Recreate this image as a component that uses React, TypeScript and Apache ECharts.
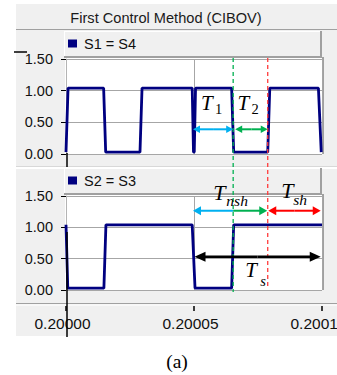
import React, { useEffect, useRef } from "react";
import * as echarts from "echarts";

// Time axis: microseconds after t = 0.2 s, labelled in seconds
const X_TICK_LABELS = ["0.20000", "0.20005", "0.20010"];
const Y_MIN = 0;
const Y_MAX = 1.5;
const Y_STEP = 0.5;

// Gate signal S1 = S4 (time in µs, level)
const s14Time = [0, 0.8, 14.7, 15.5, 28.9, 29.7, 49.3, 49.8, 50.1, 50.6, 64.7, 65.5, 78.8, 79.6, 98.6, 99.7];
const s14Level = [0.03, 1.04, 1.04, 0.03, 0.03, 1.04, 1.04, 0.03, 0.03, 1.04, 1.04, 0.03, 0.03, 1.04, 1.04, 0.03];

// Gate signal S2 = S3
const s23Time = [0, 0.7, 14.8, 15.6, 49.3, 50.4, 64.7, 65.5, 100];
const s23Level = [1.04, 0.03, 0.03, 1.04, 1.04, 0.03, 0.03, 1.04, 1.04];

// Interval boundaries (µs)
const T_START = 49.6;
const T_NSH_END = 65.3;
const T_SH_END = 78.8;
const T_END = 99.5;

const SANS = '"Liberation Sans", Arial, sans-serif';
const SERIF = '"Liberation Serif", "Times New Roman", serif';
const GRID_GRAY = "#a6a6a6";
const FRAME_GRAY = "#a0a0a0";
const BG = "#f0f0f0";
const NAVY = "#000080";
const CYAN = "#00b0f0";
const GREEN = "#00b050";
const RED = "#ff0000";

export default function App() {
  const ref = useRef<HTMLDivElement>(null);

  useEffect(() => {
    if (!ref.current) return;
    const chart = echarts.init(ref.current, undefined, { renderer: "svg" });

    const xAxes = [0, 1, 2].map((i) => ({
      type: "value",
      gridIndex: i,
      min: 0,
      max: 100,
      interval: 50,
      axisLine: { show: false },
      axisTick: { show: i === 2, length: 5, lineStyle: { color: "#000", width: 1.5 } },
      axisLabel: {
        show: i === 2,
        formatter: (v: number) => X_TICK_LABELS[Math.round(v / 50)],
        fontSize: 15.5,
        fontFamily: SANS,
        color: "#111",
        margin: 9,
        padding: [0, 7, 0, 0],
      },
      splitLine: { show: i < 2, lineStyle: { color: GRID_GRAY, width: 1 } },
    }));

    const yAxes = [0, 1, 2].map((i) => ({
      type: "value",
      gridIndex: i,
      show: i < 2,
      min: Y_MIN,
      max: Y_MAX,
      interval: Y_STEP,
      axisLine: { show: true, lineStyle: { color: "#b4b4b4", width: 1 } },
      axisTick: { show: true, length: 5, lineStyle: { color: "#000", width: 1 } },
      axisLabel: {
        formatter: (v: number) => v.toFixed(2),
        fontSize: 14.5,
        fontFamily: SANS,
        color: "#111",
        margin: 13,
      },
      splitLine: { show: true, lineStyle: { color: GRID_GRAY, width: 1 } },
    }));

    const option: any = {
      animation: false,
      grid: [
        { left: 66, top: 59, width: 256, height: 95, show: false },
        { left: 66, top: 196, width: 256, height: 94, show: false },
        { left: 66, top: 300, width: 256, height: 6, show: false },
      ],
      xAxis: xAxes,
      yAxis: yAxes,
      series: [
        {
          name: "S1 = S4",
          type: "line",
          xAxisIndex: 0,
          yAxisIndex: 0,
          data: s14Time.map((t, i) => [t, s14Level[i]]),
          showSymbol: false,
          lineStyle: { color: NAVY, width: 2.8 },
          itemStyle: { color: NAVY },
          z: 5,
        },
        {
          name: "S2 = S3",
          type: "line",
          xAxisIndex: 1,
          yAxisIndex: 1,
          data: s23Time.map((t, i) => [t, s23Level[i]]),
          showSymbol: false,
          lineStyle: { color: NAVY, width: 2.8 },
          itemStyle: { color: NAVY },
          z: 5,
        },
      ],
    };
    chart.setOption(option);

    const px = (g: number, t: number, v: number) =>
      chart.convertToPixel({ gridIndex: g } as any, [t, v]) as number[];

    const line = (x1: number, y1: number, x2: number, y2: number, stroke: string, lineWidth: number, z = 100, lineDash?: number[]) => ({
      type: "line",
      silent: true,
      z,
      shape: { x1, y1, x2, y2 },
      style: { stroke, lineWidth, lineDash },
    });
    const rect = (x: number, y: number, width: number, height: number, fill: string, z: number) => ({
      type: "rect",
      silent: true,
      z,
      shape: { x, y, width, height },
      style: { fill },
    });
    const text = (x: number, y: number, s: string, font: string, align = "left", fill = "#000", z = 110) => ({
      type: "text",
      silent: true,
      z,
      x,
      y,
      style: { text: s, font, fill, align, verticalAlign: "middle", textAlign: align, textVerticalAlign: "middle" },
    });
    const head = (tipX: number, y: number, dir: number, len: number, half: number, fill: string) => ({
      type: "polygon",
      silent: true,
      z: 100,
      shape: { points: [[tipX, y], [tipX - dir * len, y - half], [tipX - dir * len, y + half]] },
      style: { fill },
    });
    // double-headed arrow, optionally two-coloured with a split point
    const arrow = (x1: number, x2: number, y: number, c1: string, c2: string, len: number, half: number, w: number, xm?: number) => {
      const m = xm ?? (x1 + x2) / 2;
      return [
        line(x1 + len * 0.6, y, m, y, c1, w),
        line(m, y, x2 - len * 0.6, y, c2, w),
        head(x1, y, -1, len, half, c1),
        head(x2, y, 1, len, half, c2),
      ];
    };
    // italic T with a subscript
    const tLabel = (x: number, y: number, sub: string, subItalic: boolean, size: number, subSize: number, subDx: number, subDy: number) => [
      text(x, y, "T", `italic ${size}px ${SERIF}`),
      text(x + subDx, y + subDy, sub, `${subItalic ? "italic " : ""}${subSize}px ${SERIF}`),
    ];

    // plot frames
    const [gx0, gyTop0] = px(0, 0, Y_MAX);
    const [gx1, gyBot0] = px(0, 100, Y_MIN);
    const gyTop1 = px(1, 0, Y_MAX)[1];
    const gyBot1 = px(1, 0, Y_MIN)[1];

    const frame: any[] = [
      rect(16, 4, 330, 332, BG, -20),
      rect(gx0 - 1, gyTop0 - 1, gx1 - gx0 + 1, gyBot0 - gyTop0 + 1, "#fff", -10),
      rect(gx0 - 1, gyTop1 - 1, gx1 - gx0 + 1, gyBot1 - gyTop1 + 1, "#fff", -10),
      // title band separator
      line(16, 29.5, 346, 29.5, FRAME_GRAY, 1, -5),
      // legend box, upper panel
      line(64, 31.5, 321, 31.5, "#fff", 1, -5),
      line(64.5, 31, 64.5, 57, "#fff", 1, -5),
      line(321, 31, 321, 58, FRAME_GRAY, 2, -5),
      line(64, 57, 322, 57, FRAME_GRAY, 2, -5),
      line(gx1 + 1, 57, gx1 + 1, gyBot0, FRAME_GRAY, 2, -5),
      // panel separator
      line(16, 166.5, 346, 166.5, "#d8d8d8", 1, -5),
      line(16, 168, 346, 168, "#fff", 2, -5),
      // legend box, lower panel
      line(64.5, 168, 64.5, 194, "#fff", 1, -5),
      line(321, 168, 321, 195, FRAME_GRAY, 2, -5),
      line(64, 194, 322, 194, FRAME_GRAY, 2, -5),
      line(gx1 + 1, 194, gx1 + 1, gyBot1, FRAME_GRAY, 2, -5),
      // time axis band separator
      line(16, 303.5, 346, 303.5, FRAME_GRAY, 1, -5),
      line(16, 305, 346, 305, "#fff", 1, -5),
      // legend entries
      rect(68, 39.5, 9, 8, NAVY, 10),
      text(84, 44, "S1 = S4", `14.5px ${SANS}`, "left", "#111", 10),
      rect(68, 176.5, 9, 8, NAVY, 10),
      text(84, 181, "S2 = S3", `14.5px ${SANS}`, "left", "#111", 10),
      // title
      text(166, 18, "First Control Method (CIBOV)", `14.6px ${SANS}`, "center", "#1a1a1a", 10),
      // cursor marks at t = 0.20000
      line(14, 52, 27, 52, "#000", 1.5, 10),
      line(67, gyBot0 - 1, 67, 167, "#000", 1.5, 10),
      line(67, 232, 67, 337, "#000", 1.5, 10),
      // caption
      text(177, 361.5, "(a)", `19.5px ${SERIF}`, "center", "#000", 10),
    ];

    // dashed interval boundaries across both panels
    const xG = px(0, T_NSH_END, 0)[0];
    const xR = px(0, T_SH_END, 0)[0];
    const dashed = [
      line(xG, gyTop0 - 1, xG, gyBot1 + 2, GREEN, 1.3, 90, [4, 3]),
      line(xR, gyTop0 - 1, xR, gyBot1 - 3, "#ff3b3b", 1.3, 90, [4, 3]),
    ];

    // upper panel: T1 and T2
    const yA = px(0, 0, 0.39)[1];
    const xS = px(0, T_START, 0)[0];
    const xE = px(0, T_END, 0)[0];
    const upper = [
      ...arrow(xS, xG, yA, CYAN, CYAN, 7, 3.8, 2),
      ...arrow(xG + 2, xR, yA, GREEN, GREEN, 7, 3.8, 2),
      ...tLabel((xS + xG) / 2 - 12, 103, "1", false, 21, 14.5, 14, 6),
      ...tLabel((xG + xR) / 2 - 13, 103, "2", false, 21, 14.5, 14, 6),
    ];

    // lower panel: Tnsh, Tsh and Ts
    const yB = px(1, 0, 1.265)[1];
    const yK = px(1, 0, 0.53)[1];
    const lower = [
      ...arrow(xS, xR - 0.5, yB, CYAN, GREEN, 8, 4.5, 2, xG),
      ...arrow(xR + 0.5, xE, yB, RED, RED, 8, 4.5, 2),
      ...arrow(xS + 1.5, xE, yK, "#000", "#000", 11, 5, 2.5),
      ...tLabel((xS + xR) / 2 - 17, 192, "nsh", true, 22, 15.5, 13, 8),
      ...tLabel((xR + xE) / 2 - 13, 190, "sh", true, 22, 15.5, 12, 9),
      ...tLabel((xS + xE) / 2 - 11.5, 269.5, "s", true, 21, 14.5, 15, 11),
    ];

    chart.setOption({ graphic: { elements: [...frame, ...dashed, ...upper, ...lower] } });

    return () => chart.dispose();
  }, []);

  return (
    <div
      style={{ position: "absolute", left: 0, top: 0, width: 337, height: 375, overflow: "hidden", background: "#fff" }}
    >
      <div ref={ref} style={{ width: 360, height: 375 }} />
    </div>
  );
}
